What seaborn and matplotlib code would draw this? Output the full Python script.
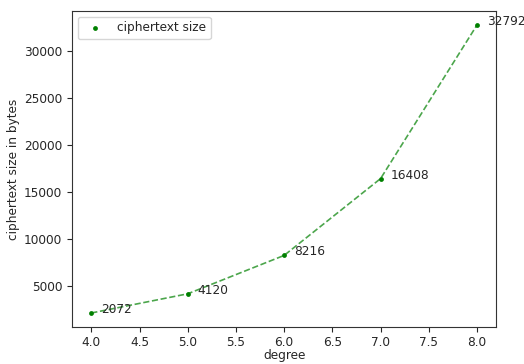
import matplotlib
matplotlib.use("Agg")
import matplotlib.pyplot as plt
import seaborn as sns
import pandas as pd

degrees = [4.0, 5.0, 6.0, 7.0, 8.0]
sizes = [2072, 4120, 8216, 16408, 32792]

df = pd.DataFrame({"degree": degrees, "size": sizes})

FS = 8.7
plt.rcParams["font.size"] = FS
plt.rcParams["text.color"] = "#262626"
plt.rcParams["axes.labelcolor"] = "#262626"
plt.rcParams["xtick.color"] = "#262626"
plt.rcParams["ytick.color"] = "#262626"

fig = plt.figure(figsize=(5.24, 3.64), dpi=100)
ax = fig.add_axes([72 / 524, 1 - 327.4 / 364, (496.3 - 72) / 524, (327.4 - 10.6) / 364])

sns.lineplot(data=df, x="degree", y="size", ax=ax, color="green", linestyle="--",
             alpha=0.7, linewidth=1.2)
sns.scatterplot(data=df, x="degree", y="size", ax=ax, color="green", s=12,
                edgecolor="green", linewidth=0, label="ciphertext size", zorder=3)

for d, s in zip(degrees, sizes):
    ax.text(d + 0.1, s, str(s), fontsize=FS)

ax.tick_params(labelsize=FS)
ax.tick_params(axis="x", pad=3)
ax.set_xlabel("degree", labelpad=0)
ax.set_ylabel("ciphertext size in bytes", labelpad=3)
for sp in ax.spines.values():
    sp.set_color("#333333")
ax.legend(loc="upper left", fontsize=FS)

fig.savefig("out.png", dpi=100)
